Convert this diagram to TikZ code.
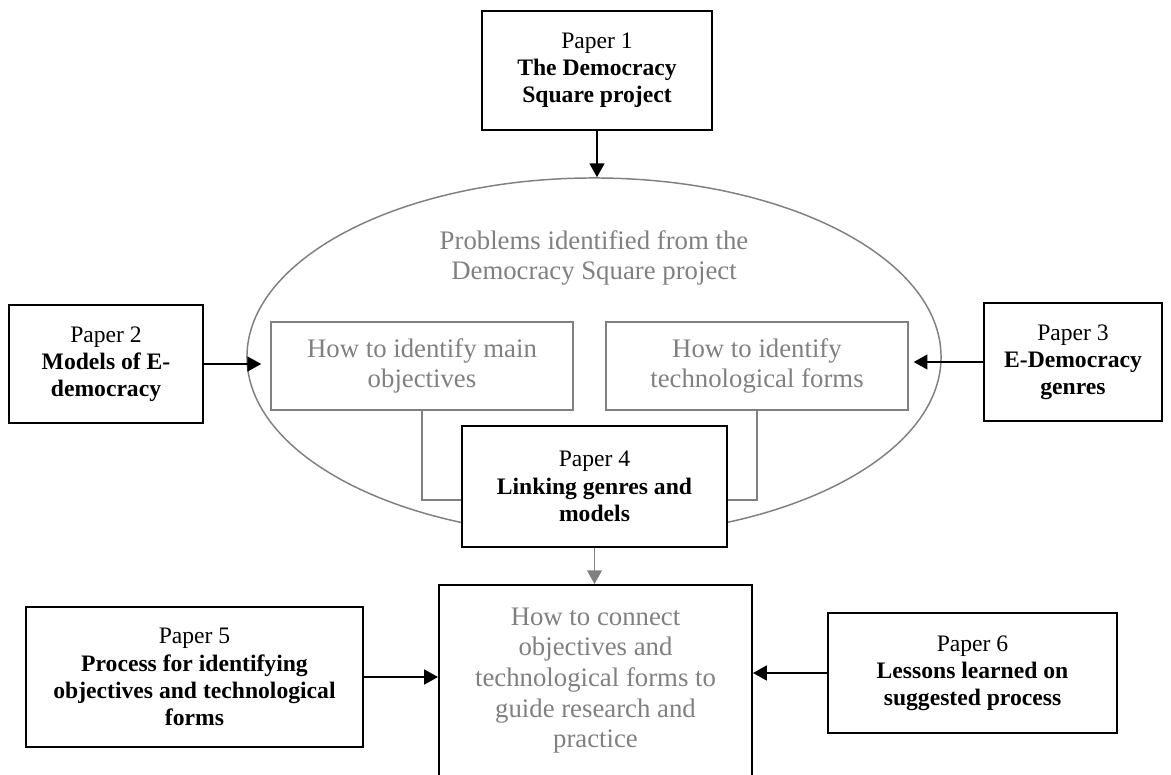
\documentclass[tikz,border=0pt]{standalone}
\usepackage{fontspec}
\setmainfont{Liberation Serif}
\usetikzlibrary{shapes.geometric,arrows.meta}

\tikzset{
	paperbox/.style={rectangle, draw, fill=white, line width=1pt, align=center, inner sep=0pt,
		font=\fontsize{12}{13.8}\selectfont},
	graybox/.style={rectangle, draw=gray, line width=0.75pt, align=center, inner sep=0pt,
		text=gray, font=\fontsize{13.6}{15.6}\selectfont},
	grayline/.style={draw=gray, line width=0.75pt},
	feed/.style={-{Triangle[length=7pt,width=7.5pt]}, line width=1pt}
}

\begin{document}
\begin{tikzpicture}[x=0.508pt, y=-0.508pt]
		
		\useasboundingbox (0,0) rectangle (1171,774);
		
		%Problem ellipse
		\node (prob) at (594, 357) [ellipse, grayline, minimum width=352.6pt, minimum 
		height=181.9pt, inner sep=0pt]{};
		\node (probtext) at (594, 258) [align=center, text=gray, font=\fontsize{13.6}{15.6}\selectfont]
		{Problems identified from the\\Democracy Square project};
		
		%Inner boxes
		\node (objbox) at (422, 366) [graybox, minimum width=153.4pt, minimum 
		height=44.7pt]{How to identify main\\objectives};
		\node (techbox) at (757, 366) [graybox, minimum width=153.4pt, minimum 
		height=44.7pt]{How to identify\\technological forms};
		
		%Papers
		\node (p1) at (597, 70.5) [paperbox, minimum width=116.8pt, minimum 
		height=60.5pt]{Paper 1\\\textbf{The Democracy}\\\textbf{Square project}};
		\node (p2) at (106, 364) [paperbox, minimum width=98.6pt, minimum 
		height=59.9pt]{Paper 2\\\textbf{Models of E-}\\\textbf{democracy}};
		\node (p3) at (1073, 362) [paperbox, minimum width=90.4pt, minimum 
		height=59.9pt]{Paper 3\\\textbf{E-Democracy}\\\textbf{genres}};
		\node (p4) at (594.5, 486.5) [paperbox, minimum width=134.6pt, minimum 
		height=61.5pt]{Paper 4\\\textbf{Linking genres and}\\\textbf{models}};
		\node (p5) at (194.5, 677) [paperbox, minimum width=171.2pt, minimum 
		height=71.1pt]{Paper 5\\\textbf{Process for identifying}\\\textbf{objectives and technological}\\\textbf{forms}};
		\node (p6) at (972.5, 673) [paperbox, minimum width=146.8pt, minimum 
		height=61pt]{Paper 6\\\textbf{Lessons learned on}\\\textbf{suggested process}};
		
		%Goal box
		\node (goal) at (595.5, 680.5) [graybox, draw=black, line width=1pt, minimum width=159pt, minimum 
		height=97pt]{How to connect\\objectives and\\technological forms to\\guide research and\\practice};
		
		%Gray links to paper 4
		\draw [grayline] (objbox.south) |- ([yshift=-6.9pt]p4.west);
		\draw [grayline] (techbox.south) |- ([yshift=-6.9pt]p4.east);
		\draw [feed, draw=gray, fill=gray] (p4.south) -- (p4.south |- goal.north);
		
		%Arrows
		\draw [feed] (p1.south) -- (p1.south |- prob.north);
		\draw [feed] (p2.east) -- ([xshift=-4.6pt]objbox.west |- p2.east);
		\draw [feed] (p3.west) -- ([xshift=2.5pt]techbox.east |- p3.west);
		\draw [feed] (p5.east) -- (goal.west |- p5.east);
		\draw [feed] (p6.west) -- (goal.east |- p6.west);
		
\end{tikzpicture}
\end{document}
